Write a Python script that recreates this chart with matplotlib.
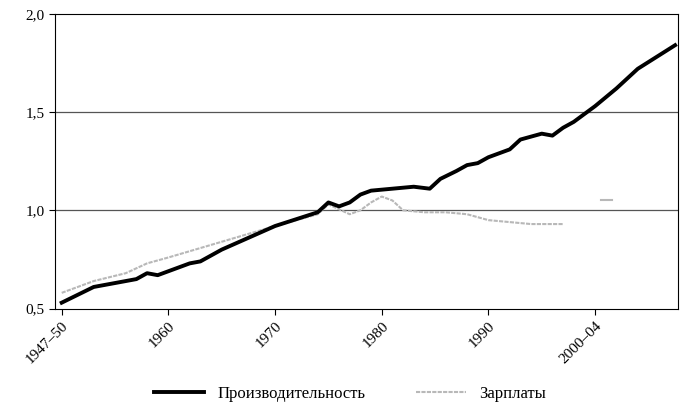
import matplotlib
matplotlib.use("Agg")
import matplotlib.pyplot as plt
import numpy as np

prod_years = [1950,1953,1957,1958,1959,1962,1963,1965,1970,1974,1975,1976,1977,1978,1979,1981,1983,1984.5,1985.5,1987,1988,1989,1990,1991,1992,1993,1995,1996,1997,1998,2000,2002,2004,2007.5]
prod_vals = [0.53,0.61,0.65,0.68,0.67,0.73,0.74,0.80,0.92,0.99,1.04,1.02,1.04,1.08,1.10,1.11,1.12,1.11,1.16,1.20,1.23,1.24,1.27,1.29,1.31,1.36,1.39,1.38,1.42,1.45,1.53,1.62,1.72,1.84]
wage_years = [1950,1953,1956,1958,1960,1965,1970,1974,1975,1977,1978,1979,1980,1981,1982,1984,1986,1988,1990,1992,1994,1997]
wage_vals = [0.58,0.64,0.68,0.73,0.76,0.84,0.92,0.98,1.03,0.98,1.00,1.04,1.07,1.05,1.00,0.99,0.99,0.98,0.95,0.94,0.93,0.93]
wage2_years = [2000.6,2001.6]
wage2_vals = [1.05,1.05]
tick_years = [1950,1960,1970,1980,1990,2000]
tick_labels = ["1947–50","1960","1970","1980","1990","2000–04"]
ytick_vals = [0.5,1.0,1.5,2.0]
ytick_labels = ["0,5","1,0","1,5","2,0"]

plt.rcParams['font.family'] = ['Liberation Serif', 'DejaVu Serif']
fig = plt.figure(figsize=(7,4.17), dpi=100)
ax = fig.add_axes([0.079, 0.26, 0.89, 0.707])
for y in [1.0,1.5]:
    ax.axhline(y, color='#555555', lw=0.9, zorder=1)
ax.plot(wage_years, wage_vals, color='#b8b8b8', lw=1.5, ls=(0,(2,0.6)), zorder=2, label='Зарплаты')
ax.plot(wage2_years, wage2_vals, color='#b8b8b8', lw=1.5, zorder=2)
ax.plot(prod_years, prod_vals, color='black', lw=2.8, zorder=3, label='Производительность')
ax.set_xlim(1949.4, 2007.8)
ax.set_ylim(0.5, 2.0)
ax.set_xticks(tick_years)
ax.set_xticklabels(tick_labels, rotation=45, ha='right', rotation_mode='anchor', fontsize=11)
ax.set_yticks(ytick_vals)
ax.set_yticklabels(ytick_labels, fontsize=11)
ax.tick_params(direction='out', length=4)
h, l = ax.get_legend_handles_labels()
fig.legend(h[::-1], l[::-1], loc='lower center', bbox_to_anchor=(0.5, 0.0), ncol=2, frameon=False, fontsize=12, handlelength=3, columnspacing=3)
fig.savefig('out.png')
